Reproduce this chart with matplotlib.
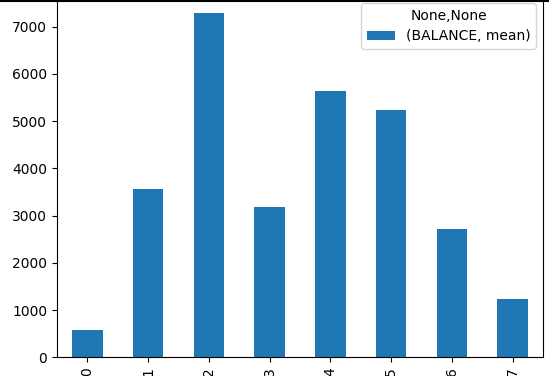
import numpy as np
import matplotlib.pyplot as plt
from matplotlib.lines import Line2D

# gemiddelde saldo per cluster
clusters = ['0', '1', '2', '3', '4', '5', '6', '7']
balance_mean = [572, 3557, 7284, 3189, 5632, 5236, 2710, 1228]

fig = plt.figure(figsize=(5.49, 3.76), dpi=100)
ax = fig.add_axes([57/549, 18.7/376, 486/549, 361.3/376])

x = np.arange(len(clusters))
ax.bar(x, balance_mean, width=0.5, color='C0', label='(BALANCE, mean)')
ax.set_xlim(-0.5, len(clusters) - 0.5)
ax.set_xticks(x)
ax.set_xticklabels(clusters, rotation=90)

ax.legend(title='None,None', loc='upper right')

# donkere rand bovenaan de schermafbeelding
fig.add_artist(Line2D([0, 1], [0.998, 0.998], color='black', lw=1.5,
                      transform=fig.transFigure))

fig.savefig('out.png', dpi=100)
